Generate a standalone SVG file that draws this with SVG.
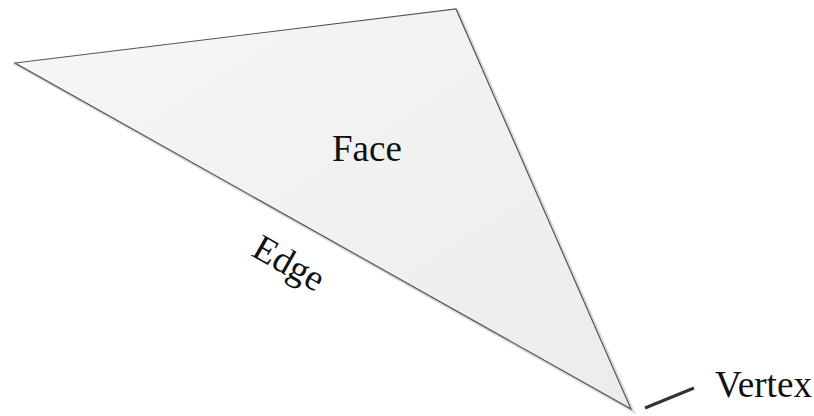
<svg xmlns="http://www.w3.org/2000/svg" width="814" height="416" viewBox="0 0 814 416">
<style>
.lbl{font-family:"Liberation Serif","Times New Roman",serif;font-size:37px;fill:#111}
.face{fill:url(#g);stroke:#555;stroke-width:1.2}
</style>
<defs>
<linearGradient id="g" x1="0" y1="0" x2="1" y2="1">
<stop offset="0" stop-color="#f6f6f6"/>
<stop offset="1" stop-color="#ececec"/>
</linearGradient>
</defs>
<rect width="814" height="416" fill="#fff"/>
<g id="face">
<polygon points="458,11 633,411 17,65" fill="none" stroke="#ddd" stroke-width="3"/>
<polygon class="face" points="15,63 456,9 631,409"/>
<text class="lbl" x="332" y="161">Face</text>
</g>
<g id="edge">
<text class="lbl" transform="translate(250,255) rotate(29.5)">Edge</text>
</g>
<g id="vertex">
<line x1="645" y1="408" x2="694" y2="388" stroke="#333" stroke-width="3"/>
<text class="lbl" x="715" y="397" textLength="97" lengthAdjust="spacingAndGlyphs">Vertex</text>
</g>
</svg>
